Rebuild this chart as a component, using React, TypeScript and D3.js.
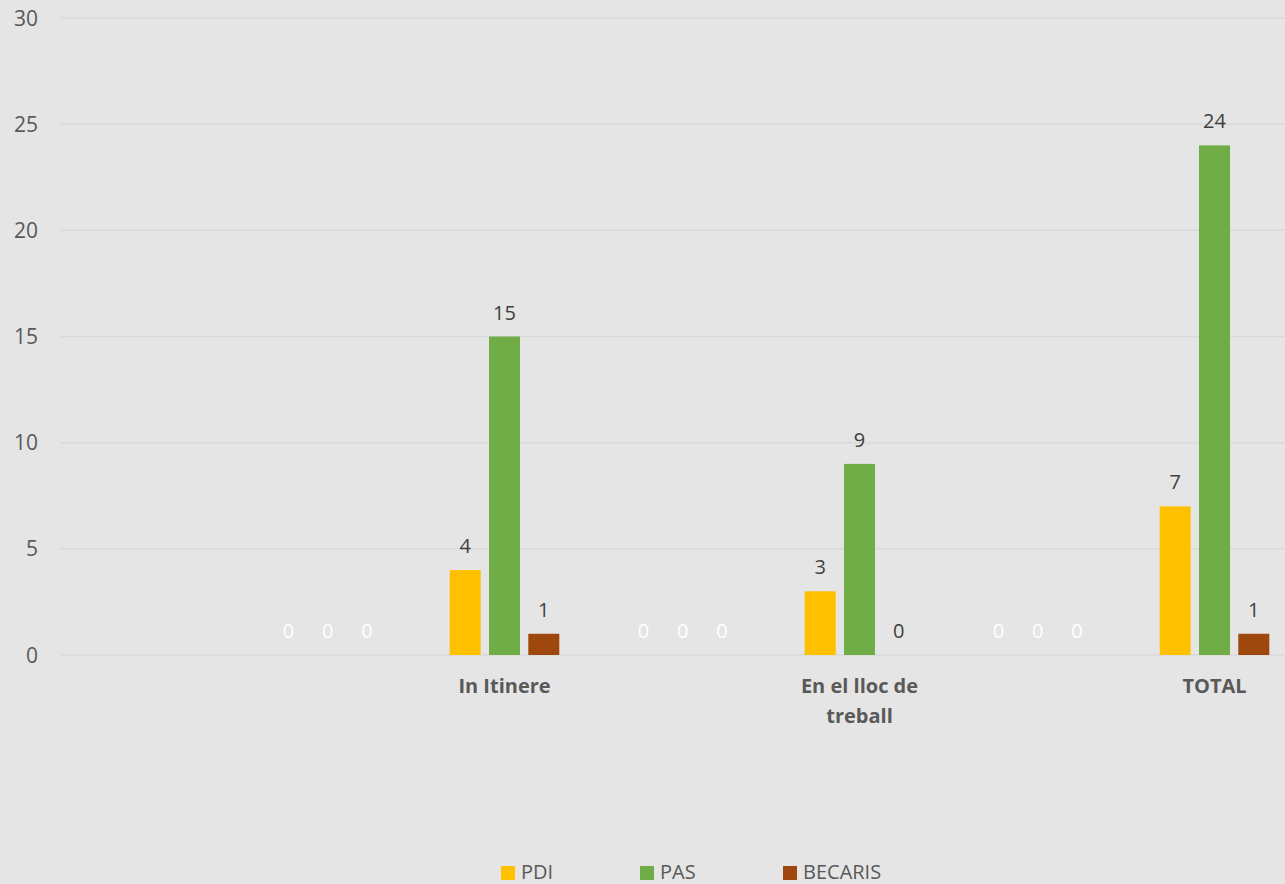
import React from "react";
import * as d3 from "d3";

const categories = ["In Itinere", "En el lloc de treball", "TOTAL"];
const categoryLines = [["In Itinere"], ["En el lloc de", "treball"], ["TOTAL"]];
const hiddenA = [0, 0, 0];
const hiddenB = [0, 0, 0];
const hiddenC = [0, 0, 0];
const pdi = [4, 3, 7];
const pas = [15, 9, 24];
const becaris = [1, 0, 1];
const yTicks = [0, 5, 10, 15, 20, 25, 30];

const series = [
  { name: "s1", values: hiddenA, slot: -5.5, color: "none", label: "#FFFFFF", legend: false },
  { name: "s2", values: hiddenB, slot: -4.5, color: "none", label: "#FFFFFF", legend: false },
  { name: "s3", values: hiddenC, slot: -3.5, color: "none", label: "#FFFFFF", legend: false },
  { name: "PDI", values: pdi, slot: -1, color: "#FFC000", label: "#404040", legend: true },
  { name: "PAS", values: pas, slot: 0, color: "#70AD47", label: "#404040", legend: true },
  { name: "BECARIS", values: becaris, slot: 1, color: "#9E480E", label: "#404040", legend: true },
];

const W = 1285;
const H = 884;
const FONT = "'Open Sans', sans-serif";

export default function App() {
  const x = d3.scaleBand<string>().domain(categories).range([327, 1392]).paddingInner(0);
  const slot = d3.scaleLinear().domain([0, 1]).range([0, 39.3]);
  const y = d3.scaleLinear().domain([0, 30]).range([655, 18]);
  const barW = 31;
  const legendX = [501, 640, 783];

  return (
    <svg
      width={W}
      height={H}
      style={{ position: "absolute", left: 0, top: 0, background: "#E5E5E5" }}
      fontFamily={FONT}
    >
      <rect x={0} y={0} width={W} height={H} fill="#E5E5E5" />
      {yTicks.map((t) => (
        <g key={t}>
          <line x1={61} x2={W} y1={y(t)} y2={y(t)} stroke="#D9D9D9" strokeWidth={1.5} />
          <text x={38} y={y(t)} dy="0.36em" textAnchor="end" fontSize={21} fill="#595959">
            {t}
          </text>
        </g>
      ))}
      {series.map((s) =>
        categories.map((c, i) => {
          const cx = (x(c) as number) + x.bandwidth() / 2 + slot(s.slot);
          const v = s.values[i];
          return (
            <g key={s.name + c}>
              {s.color !== "none" && v > 0 && (
                <rect x={cx - barW / 2} y={y(v)} width={barW} height={y(0) - y(v)} fill={s.color} />
              )}
              <text x={cx} y={y(v) - 17} textAnchor="middle" fontSize={20} fill={s.label}>
                {v}
              </text>
            </g>
          );
        })
      )}
      {categories.map((c, i) => {
        const cx = (x(c) as number) + x.bandwidth() / 2;
        return (
          <text key={c} textAnchor="middle" fontSize={20} fontWeight="bold" fill="#595959">
            {categoryLines[i].map((ln, j) => (
              <tspan key={j} x={cx} y={693 + j * 30}>
                {ln}
              </tspan>
            ))}
          </text>
        );
      })}
      {series
        .filter((s) => s.legend)
        .map((s, i) => (
          <g key={s.name}>
            <rect x={legendX[i]} y={866} width={14} height={14} fill={s.color} />
            <text x={legendX[i] + 20} y={879} fontSize={20} fill="#595959">
              {s.name}
            </text>
          </g>
        ))}
    </svg>
  );
}
